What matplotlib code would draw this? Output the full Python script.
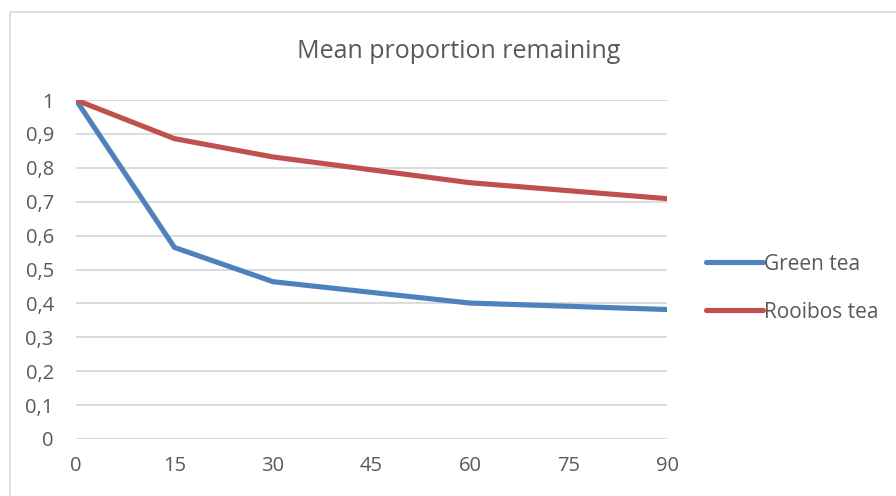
import matplotlib.pyplot as plt
from matplotlib.patches import Rectangle
from matplotlib.ticker import FuncFormatter

# minutes of steeping and mean proportion remaining
minutes = [0, 15, 30, 60, 90]
green_tea = [1.0, 0.565, 0.464, 0.401, 0.382]
rooibos_tea = [1.0, 0.886, 0.832, 0.756, 0.709]

x_ticks = [0, 15, 30, 45, 60, 75, 90]
y_ticks = [0, 0.1, 0.2, 0.3, 0.4, 0.5, 0.6, 0.7, 0.8, 0.9, 1]

plt.rcParams['font.family'] = ['Open Sans', 'DejaVu Sans']
text_col = '#595959'
grid_col = '#D9D9D9'

fig = plt.figure(figsize=(8.96, 4.96), dpi=100)
ax = fig.add_axes([76 / 896, 57 / 496, 591 / 896, 339 / 496])

# outer chart frame
fig.patches.append(Rectangle((10 / 896, -0.1), 1.0, (484 / 496) + 0.1,
                             transform=fig.transFigure, fill=False,
                             edgecolor=grid_col, linewidth=1.2))

ax.plot(minutes, green_tea, color='#4F81BD', lw=3.7, label='Green tea',
        solid_capstyle='round', solid_joinstyle='round')
ax.plot(minutes, rooibos_tea, color='#C0504D', lw=3.7, label='Rooibos tea',
        solid_capstyle='round', solid_joinstyle='round')

ax.set_xlim(0, 90)
ax.set_ylim(0, 1)
ax.set_xticks(x_ticks)
ax.set_yticks(y_ticks)
ax.yaxis.set_major_formatter(FuncFormatter(lambda v, p: f'{v:g}'.replace('.', ',')))
ax.grid(axis='y', color=grid_col, lw=1.3)
ax.set_axisbelow(True)
for s in ax.spines.values():
    s.set_visible(False)
ax.tick_params(length=0, labelsize=14.5, labelcolor=text_col)
ax.tick_params(axis='y', pad=16)
ax.tick_params(axis='x', pad=12)

fig.text(459 / 896, 1 - 52 / 496, 'Mean proportion remaining', ha='center',
         va='center', fontsize=18, color=text_col)

ax.legend(loc='center left', bbox_to_anchor=(1.035, 0.445), frameon=False,
          fontsize=15, labelcolor=text_col, handlelength=2.7,
          handletextpad=0.05, labelspacing=1.3)

fig.savefig('out.png', dpi=100)
